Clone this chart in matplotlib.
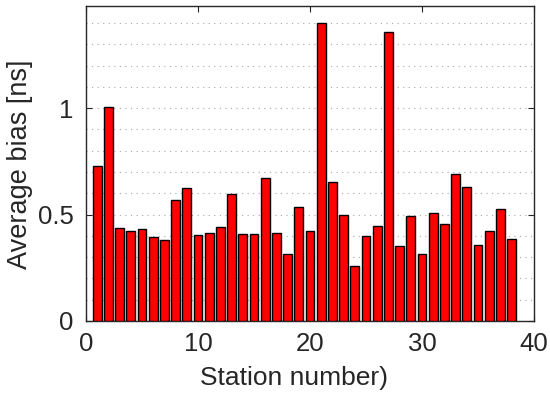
import matplotlib
matplotlib.use("Agg")
import matplotlib.pyplot as plt
import numpy as np
from matplotlib.ticker import MultipleLocator

stations = list(range(1, 39))
bias = [0.726, 1.006, 0.435, 0.424, 0.430, 0.396, 0.382, 0.570, 0.623, 0.405,
        0.415, 0.440, 0.596, 0.410, 0.407, 0.670, 0.415, 0.316, 0.537, 0.423,
        1.398, 0.651, 0.498, 0.260, 0.399, 0.447, 1.357, 0.354, 0.494, 0.313,
        0.506, 0.454, 0.692, 0.629, 0.357, 0.424, 0.524, 0.385]
xticks = [0, 10, 20, 30, 40]
yticks = [0, 0.5, 1]
yticklabels = ["0", "0.5", "1"]

plt.rcParams['font.family'] = ['Liberation Sans', 'DejaVu Sans']
fig = plt.figure(figsize=(5.5, 3.99), dpi=100)
ax = fig.add_axes([86/550, 78/399, (534-86)/550, (321-6)/399])

ax.bar(stations, bias, width=0.8, color='#ff0000', edgecolor='black', linewidth=1.0, zorder=3)

ax.set_xlim(0, 40)
ax.set_ylim(0, 1.48)
ax.set_xticks(xticks)
ax.set_yticks(yticks)
ax.set_yticklabels(yticklabels)
ax.yaxis.set_minor_locator(MultipleLocator(0.1))
ax.grid(True, axis='y', which='both', linestyle=(0, (1, 4)), color='#a8a8a8', linewidth=0.8, zorder=0)
ax.tick_params(which='both', direction='in', top=True, right=True, labelsize=18.5,
               colors='#262626', length=4)
ax.tick_params(axis='x', pad=8)
ax.tick_params(axis='y', pad=9)
ax.tick_params(which='minor', length=0)
for s in ax.spines.values():
    s.set_color('#262626')
    s.set_linewidth(1.0)
ax.set_xlabel('Station number)', fontsize=19, color='#262626')
ax.set_ylabel('Average bias [ns]', fontsize=19.5, color='#262626')
ax.xaxis.set_label_coords((294-86)/448, -(390-321)/315, transform=ax.transAxes)
ax.xaxis.label.set_va('bottom')
ax.yaxis.set_label_coords(-(86-7)/448, (321-164)/315, transform=ax.transAxes)
ax.yaxis.label.set_va('top')

fig.savefig('out.png', dpi=100)
